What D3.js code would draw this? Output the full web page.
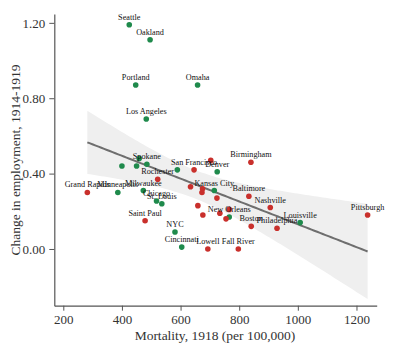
<!DOCTYPE html>
<html>
<head>
<meta charset="utf-8">
<script src="https://cdn.jsdelivr.net/npm/d3@7"></script>
<style>
  html, body { margin: 0; padding: 0; background: #fff; }
  svg { display: block; }
</style>
</head>
<body>
<svg id="chart" width="395" height="347"></svg>
<script>
// City-level observations: 1918 influenza mortality vs. employment change
const cities = [
  "Seattle", "Oakland", "Portland", "Omaha", "Los Angeles",
  "", "", "", "Spokane", "",
  "San Francisco", "", "Birmingham", "Denver", "Rochester",
  "Milwaukee", "", "Grand Rapids", "Minneapolis", "Chicago",
  "St. Louis", "Saint Paul", "NYC", "Cincinnati", "",
  "", "Kansas City", "", "Baltimore", "Nashville",
  "", "", "", "", "New Orleans",
  "", "Boston", "Philadelphia", "Louisville", "Pittsburgh",
  "Lowell", "Fall River"
];
const mortality = [
  425, 496, 447, 658, 483,
  400, 450, 459, 485, 589,
  646, 703, 840, 725, 522,
  473, 634, 282, 386, 518,
  536, 479, 581, 604, 675,
  673, 715, 724, 833, 906,
  659, 676, 734, 766, 766,
  755, 841, 929, 1008, 1238,
  693, 797
];
const employmentChange = [
  1.19, 1.11, 0.87, 0.87, 0.69,
  0.44, 0.44, 0.48, 0.45, 0.42,
  0.42, 0.47, 0.46, 0.41, 0.37,
  0.31, 0.33, 0.30, 0.30, 0.255,
  0.24, 0.15, 0.09, 0.01, 0.32,
  0.30, 0.31, 0.27, 0.28, 0.22,
  0.23, 0.18, 0.19, 0.21, 0.17,
  0.16, 0.12, 0.11, 0.14, 0.18,
  0.00, 0.00
];
// 0 = green group, 1 = red group
const group = [
  0, 0, 0, 0, 0,
  0, 0, 0, 0, 0,
  1, 1, 1, 0, 1,
  0, 1, 1, 0, 0,
  0, 1, 0, 0, 1,
  1, 0, 1, 1, 1,
  1, 1, 1, 1, 0,
  1, 1, 1, 0, 1,
  1, 1
];
const groupColors = ["#1f8a4c", "#c9302c"];
const xTicks = [200, 400, 600, 800, 1000, 1200];
const yTicks = [0.0, 0.4, 0.8, 1.2];

const data = cities.map((c, i) => ({
  city: c, x: mortality[i], y: employmentChange[i], g: group[i]
}));

const svg = d3.select("#chart");
const serif = "'Liberation Serif', 'Times New Roman', serif";

const x = d3.scaleLinear().domain([169.3, 1269]).range([54.3, 376.7]);
const y = d3.scaleLinear().domain([-0.301, 1.247]).range([305.7, 14]);

// Ordinary least squares fit with 95% confidence band for the mean
const n = data.length;
const xbar = d3.mean(data, d => d.x);
const ybar = d3.mean(data, d => d.y);
const sxx = d3.sum(data, d => (d.x - xbar) ** 2);
const sxy = d3.sum(data, d => (d.x - xbar) * (d.y - ybar));
const slope = sxy / sxx;
const intercept = ybar - slope * xbar;
const sse = d3.sum(data, d => (d.y - (intercept + slope * d.x)) ** 2);
const s = Math.sqrt(sse / (n - 2));
const tCrit = 2.021;
const [xMin, xMax] = d3.extent(data, d => d.x);
const grid = d3.range(0, 101).map(k => xMin + (xMax - xMin) * k / 100);
const band = grid.map(v => {
  const fit = intercept + slope * v;
  const hw = tCrit * s * Math.sqrt(1 / n + (v - xbar) ** 2 / sxx);
  return { x: v, lo: fit - hw, hi: fit + hw, fit };
});

svg.append("path")
  .datum(band)
  .attr("fill", "#efefef")
  .attr("d", d3.area().x(d => x(d.x)).y0(d => y(d.lo)).y1(d => y(d.hi)));

svg.append("path")
  .datum(band)
  .attr("fill", "none")
  .attr("stroke", "#6e6e6e")
  .attr("stroke-width", 2)
  .attr("d", d3.line().x(d => x(d.x)).y(d => y(d.fit)));

// Axes
const xAxis = svg.append("g")
  .attr("transform", "translate(0,305.7)")
  .call(d3.axisBottom(x).tickValues(xTicks).tickFormat(d3.format("d"))
    .tickSize(5).tickPadding(4).tickSizeOuter(0));
const yAxis = svg.append("g")
  .attr("transform", "translate(54.3,0)")
  .call(d3.axisLeft(y).tickValues(yTicks).tickFormat(d3.format(".2f"))
    .tickSize(5).tickPadding(4).tickSizeOuter(0));

[xAxis, yAxis].forEach(a => {
  a.select(".domain").attr("stroke", "#555").attr("stroke-width", 1.2);
  a.selectAll(".tick line").attr("stroke", "#555");
  a.selectAll(".tick text").attr("fill", "#333").style("font-family", serif).style("font-size", "13px");
});

svg.append("text")
  .attr("x", 215).attr("y", 340)
  .attr("text-anchor", "middle")
  .style("font-family", serif).style("font-size", "13.5px").attr("fill", "#333")
  .text("Mortality, 1918 (per 100,000)");

svg.append("text")
  .attr("transform", "translate(20,160) rotate(-90)")
  .attr("text-anchor", "middle")
  .style("font-family", serif).style("font-size", "13.5px").attr("fill", "#333")
  .text("Change in employment, 1914-1919");

// Points and city labels
svg.append("g").selectAll("circle")
  .data(data)
  .join("circle")
  .attr("cx", d => x(d.x))
  .attr("cy", d => y(d.y))
  .attr("r", 2.8)
  .attr("fill", d => groupColors[d.g]);

svg.append("g").selectAll("text")
  .data(data.filter(d => d.city))
  .join("text")
  .attr("x", d => x(d.x))
  .attr("y", d => y(d.y) - 5)
  .attr("text-anchor", "middle")
  .style("font-family", serif).style("font-size", "8.2px").attr("fill", "#111")
  .text(d => d.city);
</script>
</body>
</html>
